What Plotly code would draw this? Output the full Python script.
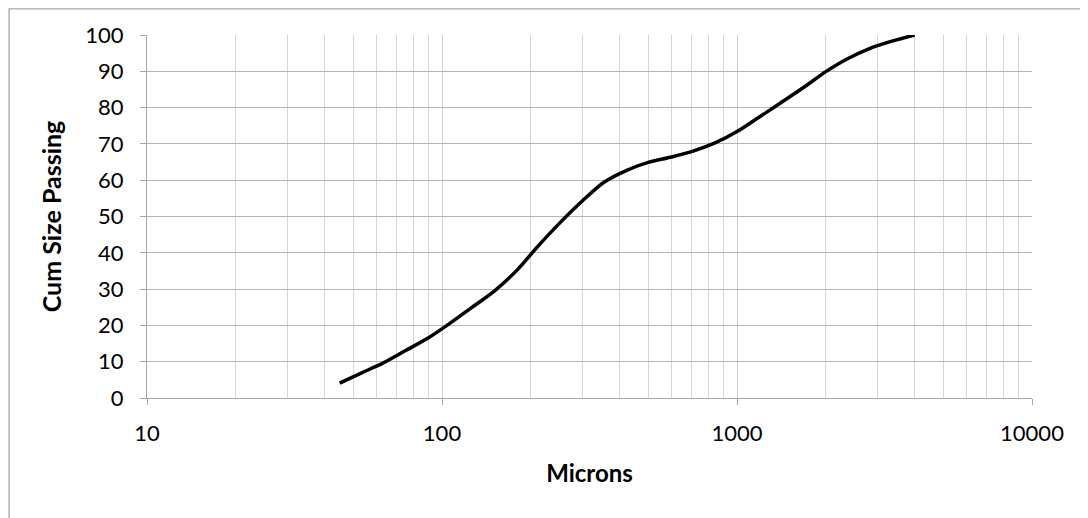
import plotly.graph_objects as go

microns = [45, 53, 63, 75, 90, 106, 125, 150, 180, 212, 250, 300, 355, 425, 500,
           600, 710, 850, 1000, 1180, 1400, 1700, 2000, 2360, 2800, 3350, 4000]
cum_passing = [4.1, 6.8, 9.6, 13.0, 16.6, 20.5, 24.7, 29.4, 35.3, 41.9, 48.1, 54.4, 59.5, 62.8, 64.9,
               66.4, 68.0, 70.4, 73.4, 77.2, 81.2, 85.8, 89.9, 93.4, 96.2, 98.3, 100.0]

x_tickvals = [10, 100, 1000, 10000]
x_ticktext = ["10", "100", "1000", "10000"]
y_tickvals = [0, 10, 20, 30, 40, 50, 60, 70, 80, 90, 100]

FONT = "Lato"
OFF = 8  # page body margin
W, H = 1088 - OFF, 518 - OFF
# target plot area in window pixels: x 146.7..1031.7, y 35..398.3
L = 146.7 - OFF
T = 35 - OFF
R = (OFF + W) - 1031.7
B = (OFF + H) - 398.3

fig = go.Figure()
fig.add_trace(go.Scatter(
    x=microns, y=cum_passing, mode="lines",
    line=dict(color="black", width=3.5, shape="spline", smoothing=0.8),
    showlegend=False, hoverinfo="x+y"))

pw = W - L - R
ph = H - T - B
# chart border: as close to the top-left of the page as possible, right/bottom off-image
fig.add_shape(type="rect", xref="paper", yref="paper",
              x0=(0.8 - L) / pw, x1=(W + 30 - L) / pw,
              y0=-(B + 30) / ph, y1=(ph + T - 0.8) / ph,
              line=dict(color="#a6a6a6", width=1.3), fillcolor="rgba(0,0,0,0)", layer="below")

fig.update_layout(
    width=W, height=H,
    margin=dict(l=L, r=R, t=T, b=B),
    paper_bgcolor="white", plot_bgcolor="white",
    font=dict(family=FONT, color="black", size=22),
    xaxis=dict(
        type="log", range=[1, 4],
        tickvals=x_tickvals, ticktext=x_ticktext,
        showgrid=True, gridcolor="#cfcfcf", gridwidth=1.3,
        minor=dict(dtick="D1", showgrid=True, gridcolor="#d6d6d6", gridwidth=1.3, ticks=""),
        showline=True, linecolor="#a6a6a6", linewidth=1.3,
        ticks="outside", ticklen=6, tickcolor="#a6a6a6", tickwidth=1.3,
        ticklabelstandoff=9,
        tickfont=dict(family=FONT, size=22),
        title=dict(text="<b>Microns</b>", font=dict(family=FONT, size=24), standoff=20),
        zeroline=False,
    ),
    yaxis=dict(
        range=[0, 100], tickvals=y_tickvals,
        showgrid=True, gridcolor="#b5b5b5", gridwidth=1.3,
        showline=True, linecolor="#a6a6a6", linewidth=1.3,
        ticks="outside", ticklen=6, tickcolor="#a6a6a6", tickwidth=1.3,
        ticklabelstandoff=12,
        tickfont=dict(family=FONT, size=22),
        title=dict(text="<b>Cum Size Passing</b>", font=dict(family=FONT, size=25), standoff=16),
        zeroline=False,
    ),
)

fig.write_html("out.html")
